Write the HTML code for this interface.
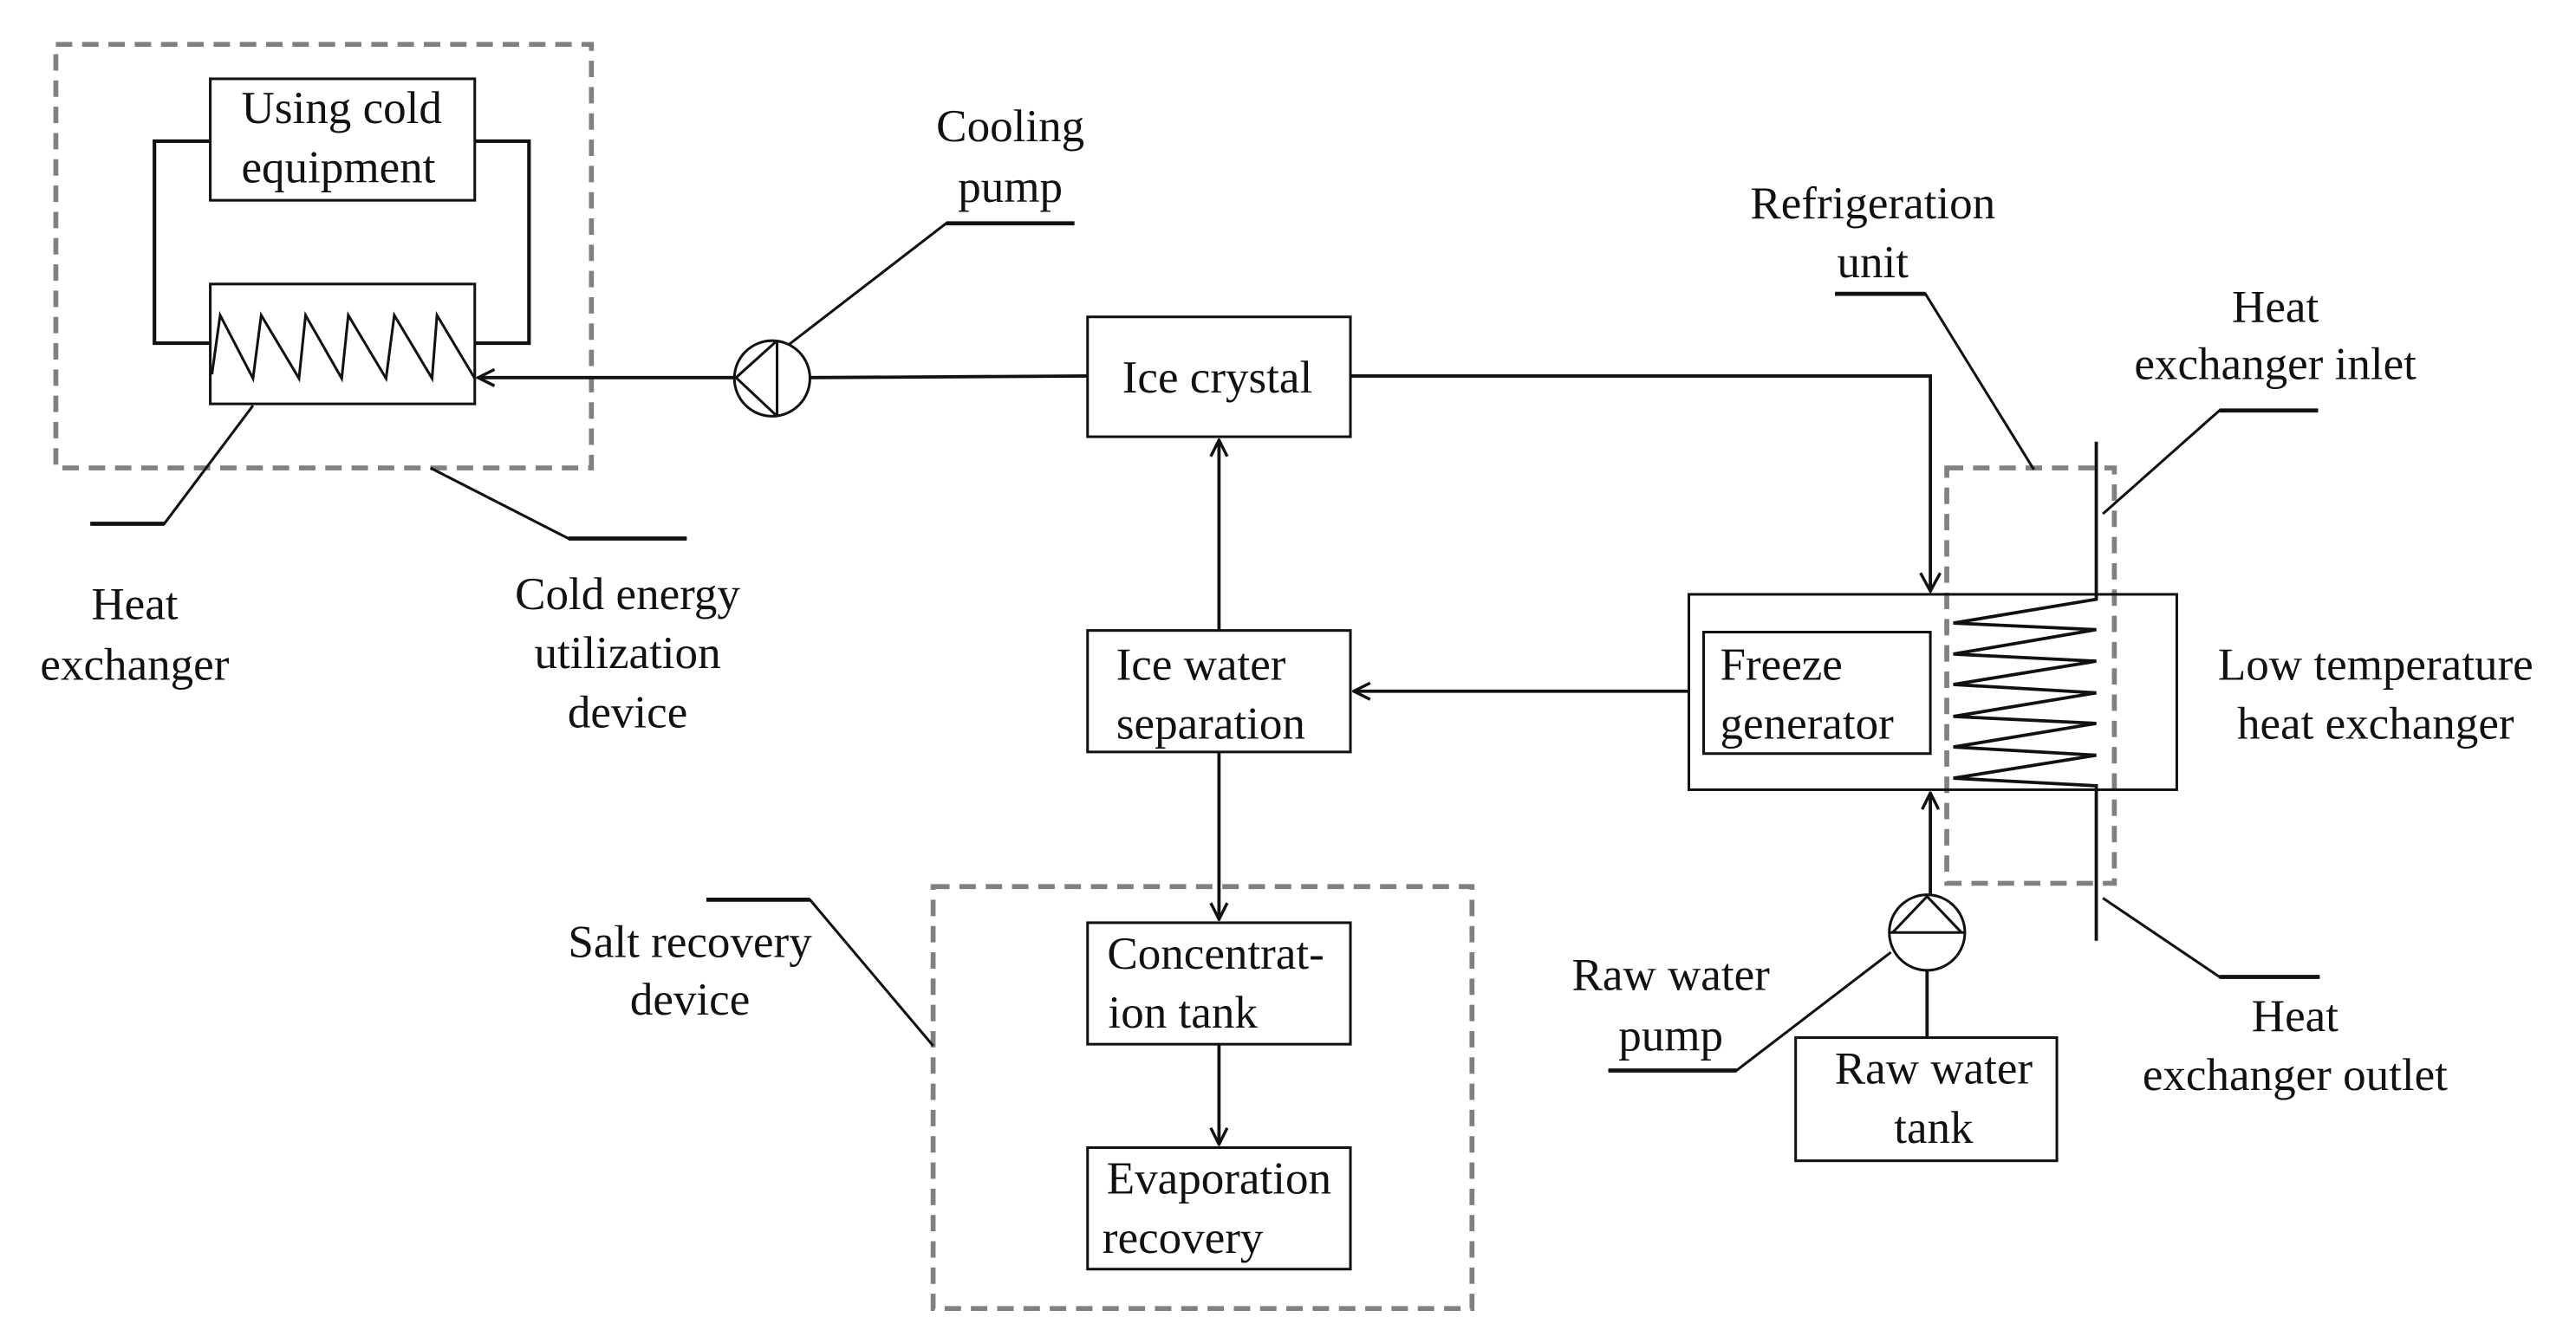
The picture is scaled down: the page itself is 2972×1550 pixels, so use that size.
<!DOCTYPE html>
<html><head><meta charset="utf-8"><style>
html,body{margin:0;padding:0;background:#fff;}
svg{display:block;}
text{font-family:"Liberation Serif","Times New Roman",serif;font-size:28px;fill:#111;}
</style></head><body>
<svg width="2972" height="1550" viewBox="0 0 1568 818" preserveAspectRatio="none" xmlns="http://www.w3.org/2000/svg">
<defs>
<marker id="ah" viewBox="0 0 12 12" refX="11" refY="6" markerWidth="12" markerHeight="12" markerUnits="userSpaceOnUse" orient="auto">
<path d="M1,1 L11,6 L1,11" fill="none" stroke="#111" stroke-width="1.8"/>
</marker>
</defs>
<g fill="none" stroke="#111" stroke-width="1.6">
<rect x="34" y="27" width="326" height="258" stroke="#808080" stroke-width="3" stroke-dasharray="10,6"/>
<rect x="568" y="540" width="328" height="257" stroke="#808080" stroke-width="3" stroke-dasharray="10,6"/>
<rect x="1185" y="285" width="102" height="253" stroke="#808080" stroke-width="3" stroke-dasharray="10,6"/>
<rect x="128" y="48" width="161" height="74"/>
<rect x="128" y="173" width="161" height="73"/>
<polyline points="128,86 94,86 94,209 128,209" stroke-width="2.2"/>
<polyline points="289,86 322,86 322,209 289,209" stroke-width="2.2"/>
<polyline points="129,228 134,192 154,230.5 159,192 182,230.5 186,192 208,230.5 212,192 235,230.5 240,192 263,230.5 266,192 289,230.5"/>
<line x1="447" y1="230" x2="291" y2="230" marker-end="url(#ah)" stroke-width="2"/>
<circle cx="470" cy="230.5" r="23"/>
<polyline points="473,207.5 473,253.5"/>
<polyline points="473,207.5 448,230 473,253.5"/>
<line x1="493" y1="230" x2="662" y2="229" stroke-width="2"/>
<polyline points="480,210 576,136 654,136"/>
<polyline points="154,247 100,319 55,319"/>
<polyline points="262,285 346,328 418,328"/>
<line x1="576" y1="136" x2="654" y2="136" stroke-width="2.5"/>
<line x1="55" y1="319" x2="100" y2="319" stroke-width="2.5"/>
<line x1="346" y1="328" x2="418" y2="328" stroke-width="2.5"/>
<rect x="662" y="193" width="160" height="73"/>
<rect x="662" y="384" width="160" height="74"/>
<line x1="742" y1="384" x2="742" y2="268" marker-end="url(#ah)" stroke-width="2"/>
<polyline points="822,229 1175,229 1175,360" stroke-width="2"/>
<path d="M1169,349 L1175,360 L1181,349" stroke-width="1.8"/>
<line x1="1028" y1="421" x2="824" y2="421" marker-end="url(#ah)" stroke-width="2"/>
<line x1="742" y1="458" x2="742" y2="560" marker-end="url(#ah)" stroke-width="2"/>
<rect x="662" y="562" width="160" height="74"/>
<line x1="742" y1="636" x2="742" y2="697" marker-end="url(#ah)" stroke-width="2"/>
<rect x="662" y="699" width="160" height="74"/>
<polyline points="430,548 493,548 568,637"/>
<line x1="430" y1="548" x2="493" y2="548" stroke-width="2.5"/>
<rect x="1028" y="362" width="297" height="119"/>
<rect x="1037" y="385" width="138" height="74"/>
<polyline points="1276,269 1276,365 1189,379.5 1276,383.5 1189,398.4 1276,402.7 1189,416.9 1276,422 1189,436.4 1276,440.6 1189,455 1276,460 1189,474 1276,478.6 1276,573" stroke-width="2"/>
<polyline points="1280,313 1351,250 1411,250"/>
<line x1="1351" y1="250" x2="1411" y2="250" stroke-width="2.5"/>
<polyline points="1280,547 1351,595 1412,595"/>
<line x1="1351" y1="595" x2="1412" y2="595" stroke-width="2.5"/>
<polyline points="1238,286 1172,179 1117,179"/>
<line x1="1117" y1="179" x2="1172" y2="179" stroke-width="2.5"/>
<circle cx="1173" cy="568" r="23"/>
<line x1="1150" y1="568" x2="1196" y2="568"/>
<polyline points="1152,568 1173,546 1194,568"/>
<line x1="1175" y1="545" x2="1175" y2="483" marker-end="url(#ah)" stroke-width="2"/>
<line x1="1173" y1="591" x2="1173" y2="632" stroke-width="2"/>
<rect x="1093" y="632" width="159" height="75"/>
<polyline points="1151,580 1057,652 979,652"/>
<line x1="979" y1="652" x2="1057" y2="652" stroke-width="2.5"/>
</g>
<g text-anchor="middle">
<text x="208" y="75">Using cold</text>
<text x="206" y="111">equipment</text>
<text x="615" y="86">Cooling</text>
<text x="615" y="123">pump</text>
<text x="82" y="377">Heat</text>
<text x="82" y="414">exchanger</text>
<text x="382" y="371">Cold energy</text>
<text x="382" y="407">utilization</text>
<text x="382" y="443">device</text>
<text x="741" y="239">Ice crystal</text>
<text x="731" y="414">Ice water</text>
<text x="737" y="450">separation</text>
<text x="740" y="590">Concentrat-</text>
<text x="720" y="626">ion tank</text>
<text x="742" y="727">Evaporation</text>
<text x="720" y="763">recovery</text>
<text x="420" y="583">Salt recovery</text>
<text x="420" y="618">device</text>
<text x="1140" y="133">Refrigeration</text>
<text x="1140" y="169">unit</text>
<text x="1385" y="196">Heat</text>
<text x="1385" y="231">exchanger inlet</text>
<text x="1446" y="414">Low temperature</text>
<text x="1446" y="450">heat exchanger</text>
<text x="1397" y="628">Heat</text>
<text x="1397" y="664">exchanger outlet</text>
<text x="1017" y="603">Raw water</text>
<text x="1017" y="640">pump</text>
<text x="1177" y="660">Raw water</text>
<text x="1177" y="696">tank</text>
</g>
<text x="1047" y="414">Freeze</text>
<text x="1047" y="450">generator</text>
</svg>
</body></html>
